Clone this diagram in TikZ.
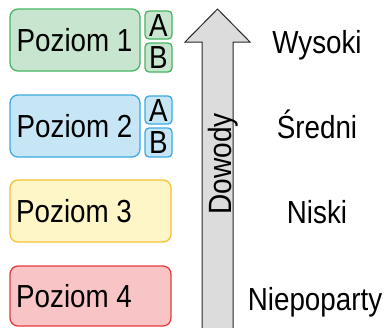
\documentclass[tikz,border=0pt]{standalone}
\usepackage{fontspec}
\setmainfont{Liberation Sans}
\definecolor{gfill}{RGB}{200,230,207}
\definecolor{gdraw}{RGB}{70,180,100}
\definecolor{bfill}{RGB}{198,230,246}
\definecolor{bdraw}{RGB}{60,170,225}
\definecolor{yfill}{RGB}{255,246,200}
\definecolor{ydraw}{RGB}{248,192,50}
\definecolor{rfill}{RGB}{248,196,198}
\definecolor{rdraw}{RGB}{228,60,62}
\definecolor{afill}{RGB}{220,220,220}
\definecolor{adraw}{RGB}{40,40,40}
\newcommand{\tallt}[1]{\scalebox{1.01}[1.16]{#1}}
\tikzset{
  lvl/.style={draw=#1draw, fill=#1fill, line width=1.3pt, rounded corners=8pt},
  ab/.style={draw=#1draw, fill=#1fill, line width=1.3pt, rounded corners=4pt},
  txt/.style={font=\fontsize{27.5}{30}\selectfont, inner sep=0pt, anchor=base},
  ltxt/.style={txt, anchor=base west}
}
\begin{document}
\begin{tikzpicture}[x=1pt,y=-1pt]
\useasboundingbox (0,0) rectangle (387,327);
% level boxes
\draw[lvl=g] (10,9) rectangle (140,71);
\node[ltxt] (p1) at (16.5,51.5) {\tallt{Poziom 1}};
\draw[ab=g] (145,11) rectangle (172,39);
\node[txt] (a1) at (158.5,36) {\tallt{A}};
\draw[ab=g] (145,43) rectangle (172,72);
\node[txt] (b1) at (158.5,68.5) {\tallt{B}};

\draw[lvl=b] (10,95) rectangle (140,157);
\node[ltxt] (p2) at (16.5,137.5) {\tallt{Poziom 2}};
\draw[ab=b] (145,96) rectangle (172,124);
\node[txt] (a2) at (158.5,121) {\tallt{A}};
\draw[ab=b] (145,128) rectangle (172,157);
\node[txt] (b2) at (158.5,153.5) {\tallt{B}};

\draw[lvl=y] (10,180) rectangle (171,242);
\node[ltxt] (p3) at (16,222.5) {\tallt{Poziom 3}};

\draw[lvl=r] (10,266) rectangle (171,326);
\node[ltxt] (p4) at (16,307.5) {\tallt{Poziom 4}};

% arrow
\draw[draw=adraw, fill=afill, line width=1pt]
  (202,330) -- (202,42) -- (185,42) -- (217.5,9) -- (250,42) -- (233,42) -- (233,330) -- cycle;
\node[txt, rotate=90] (dow) at (231,164) {\scalebox{1.02}[1.17]{Dowody}};

% labels
\node[txt] (l1) at (317,53) {\tallt{Wysoki}};
\node[txt] (l2) at (317,138.5) {\tallt{Średni}};
\node[txt] (l3) at (317,223.5) {\tallt{Niski}};
\node[txt] (l4) at (315,310.5) {\tallt{Niepoparty}};
\end{tikzpicture}
\end{document}
